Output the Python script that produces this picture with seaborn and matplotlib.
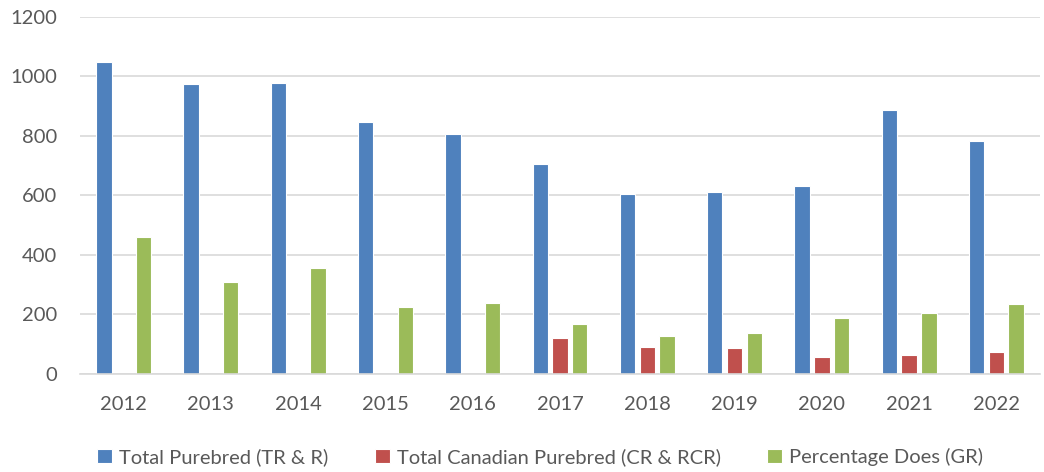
import numpy as np
import pandas as pd
import matplotlib
matplotlib.use("Agg")
import matplotlib.pyplot as plt
import seaborn as sns

years = ["2012", "2013", "2014", "2015", "2016", "2017", "2018", "2019", "2020", "2021", "2022"]
total_purebred = [1047, 974, 976, 845, 806, 704, 603, 612, 630, 885, 782]
canadian_purebred = [np.nan, np.nan, np.nan, np.nan, np.nan, 120, 90, 86, 58, 64, 73]
percentage_does = [461, 308, 356, 225, 238, 168, 129, 137, 187, 205, 236]
series_names = ["Total Purebred (TR & R)", "Total Canadian Purebred (CR & RCR)", "Percentage Does (GR)"]
y_ticks = [0, 200, 400, 600, 800, 1000, 1200]

df = pd.DataFrame({
    "year": years * 3,
    "value": total_purebred + canadian_purebred + percentage_does,
    "series": [series_names[0]] * len(years) + [series_names[1]] * len(years) + [series_names[2]] * len(years),
})

sns.set_theme(style="white")
plt.rcParams["font.family"] = ["Lato", "DejaVu Sans"]

fig = plt.figure(figsize=(10.44, 4.72), dpi=100)
ax = fig.add_axes([80 / 1044, 98 / 472, 960 / 1044, (374 - 16.7) / 472])

palette = ["#4F81BD", "#C0504D", "#9BBB59"]
sns.barplot(data=df, x="year", y="value", hue="series", hue_order=series_names, order=years,
            palette=palette, width=0.68, gap=0.22, errorbar=None, ax=ax,
            edgecolor="white", linewidth=0.8, saturation=1)

ax.set_ylim(0, 1200)
ax.set_yticks(y_ticks)
ax.set_yticklabels([str(t) for t in y_ticks])
ax.set_xlim(-0.5, len(years) - 0.5)
ax.yaxis.grid(True, color="#D9D9D9", linewidth=1.2)
ax.set_axisbelow(True)
for s in ["top", "right", "left"]:
    ax.spines[s].set_visible(False)
ax.spines["bottom"].set_color("#D9D9D9")
ax.spines["bottom"].set_linewidth(1.2)
ax.tick_params(axis="both", length=0, labelsize=14.5, labelcolor="#595959")
ax.tick_params(axis="y", pad=16.5)
ax.tick_params(axis="x", pad=16)
ax.set_xlabel("")
ax.set_ylabel("")

handles, labels = ax.get_legend_handles_labels()
ax.get_legend().remove()
fig.legend(handles, labels, loc="center", bbox_to_anchor=(540 / 1044, 15 / 472), ncol=3,
           frameon=False, handlelength=0.75, handleheight=0.75, handletextpad=0.35,
           columnspacing=2.3, fontsize=14.5, labelcolor="#595959")

fig.savefig("out.png", dpi=100)
